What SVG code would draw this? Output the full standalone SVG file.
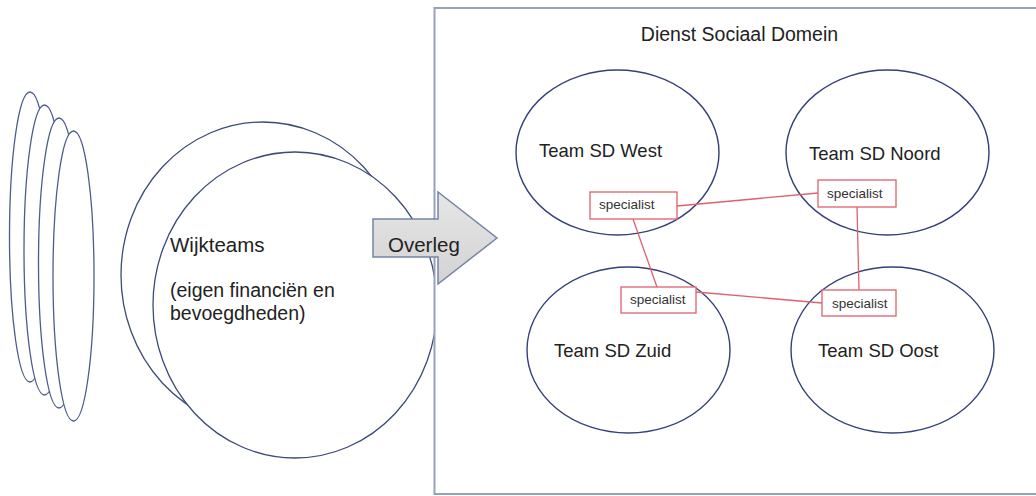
<svg xmlns="http://www.w3.org/2000/svg" width="1036" height="496" viewBox="0 0 1036 496">
  <defs>
    <linearGradient id="arrowFill" x1="0" y1="0" x2="0" y2="1">
      <stop offset="0" stop-color="#e6e6e6"/>
      <stop offset="1" stop-color="#d3d3d3"/>
    </linearGradient>
    <style>
      .stack { fill: #ffffff; stroke: #4d5c8c; stroke-width: 1.3; }
      .wijk { fill: #ffffff; stroke: #3d4a7a; stroke-width: 1.3; }
      .team { fill: none; stroke: #34407a; stroke-width: 1.4; }
      .box { fill: #ffffff; stroke: #e0606e; stroke-width: 1.3; }
      .link { stroke: #e0606e; stroke-width: 1.3; fill: none; }
      .frame { fill: #ffffff; stroke: #98a2b6; stroke-width: 2; }
      .lbl { font-family: "Liberation Sans", Arial, sans-serif; fill: #222222; }
      .big { font-size: 18.5px; }
      .small { font-size: 13.5px; fill: #333333; }
    </style>
  </defs>

  <g id="wijkteam-stack">
    <ellipse class="stack" cx="30" cy="237" rx="20.5" ry="145"/>
    <ellipse class="stack" cx="44.5" cy="250" rx="20.5" ry="145"/>
    <ellipse class="stack" cx="59" cy="263" rx="20.5" ry="145"/>
    <ellipse class="stack" cx="73.5" cy="276" rx="20.5" ry="145"/>
  </g>

  <g id="wijkteams">
    <ellipse class="wijk" cx="263" cy="275" rx="142" ry="153"/>
    <ellipse class="wijk" cx="295" cy="305" rx="142" ry="153"/>
    <text class="lbl" x="170" y="252" font-size="20.5">Wijkteams</text>
    <text class="lbl" x="170" y="297" font-size="19.5">(eigen financiën en</text>
    <text class="lbl" x="170" y="320" font-size="19.5">bevoegdheden)</text>
  </g>

  <g id="dienst-sociaal-domein">
    <rect class="frame" x="434.5" y="8" width="603" height="486"/>
    <text class="lbl" x="739.5" y="41" font-size="19.5" text-anchor="middle">Dienst Sociaal Domein</text>
  </g>

  <g id="overleg">
    <path d="M373,219 H438 V192 L497,238 L438,284 V257 H373 Z" fill="url(#arrowFill)" stroke="#7584a8" stroke-width="1.5" stroke-linejoin="miter"/>
    <text class="lbl" x="388" y="252" font-size="20.5">Overleg</text>
  </g>

  <g id="team-west">
    <ellipse class="team" cx="617.5" cy="152.5" rx="101.5" ry="82.5"/>
    <text class="lbl big" x="539" y="157">Team SD West</text>
  </g>
  <g id="team-noord">
    <ellipse class="team" cx="887.5" cy="152.5" rx="101.5" ry="82.5"/>
    <text class="lbl big" x="809" y="160">Team SD Noord</text>
  </g>
  <g id="team-zuid">
    <ellipse class="team" cx="628.5" cy="350" rx="101.5" ry="83"/>
    <text class="lbl big" x="554" y="357">Team SD Zuid</text>
  </g>
  <g id="team-oost">
    <ellipse class="team" cx="892.5" cy="350" rx="101.5" ry="83"/>
    <text class="lbl big" x="818" y="357">Team SD Oost</text>
  </g>

  <g id="connectors">
    <line class="link" x1="677" y1="206" x2="818" y2="193"/>
    <line class="link" x1="633" y1="219" x2="657" y2="287"/>
    <line class="link" x1="857" y1="207" x2="859" y2="290"/>
    <line class="link" x1="696" y1="292" x2="822" y2="303"/>
  </g>

  <g id="specialist-west">
    <rect class="box" x="590" y="192" width="87" height="27"/>
    <text class="lbl small" x="599" y="209">specialist</text>
  </g>
  <g id="specialist-noord">
    <rect class="box" x="818" y="180" width="78" height="27"/>
    <text class="lbl small" x="827" y="198">specialist</text>
  </g>
  <g id="specialist-zuid">
    <rect class="box" x="621" y="287" width="75" height="26"/>
    <text class="lbl small" x="630" y="304">specialist</text>
  </g>
  <g id="specialist-oost">
    <rect class="box" x="822" y="290" width="74" height="26"/>
    <text class="lbl small" x="832" y="308">specialist</text>
  </g>
</svg>
